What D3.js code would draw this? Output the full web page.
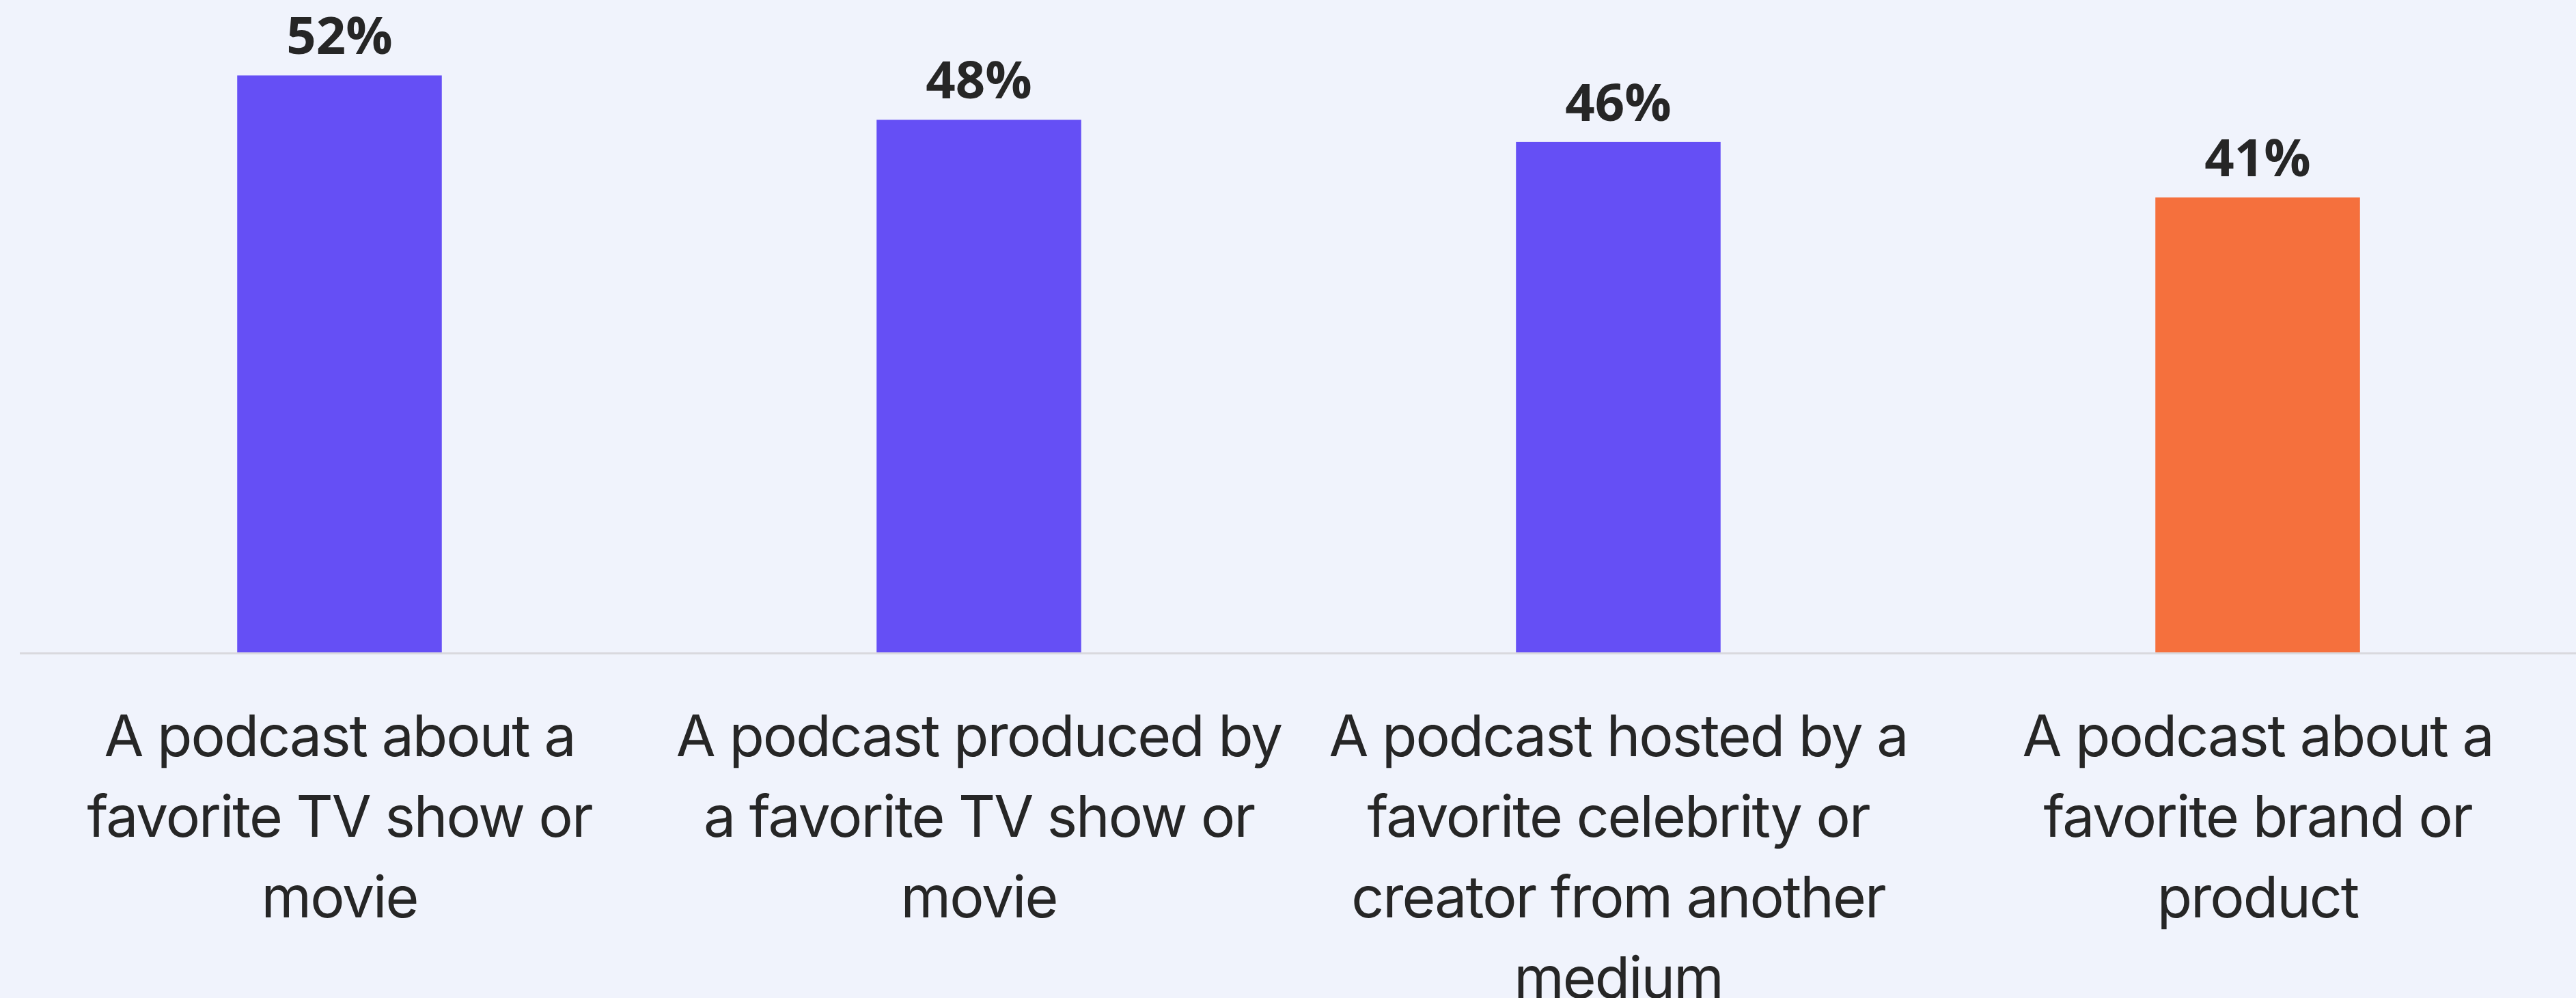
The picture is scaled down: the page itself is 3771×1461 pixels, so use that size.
<!DOCTYPE html>
<html>
<head>
<meta charset="utf-8">
<script src="https://cdn.jsdelivr.net/npm/d3@7"></script>
<style>
  html, body { margin: 0; padding: 0; background: #F0F3FC; }
  svg { display: block; }
</style>
</head>
<body>
<svg id="chart" width="3771" height="1461"></svg>
<script>
// Share of respondents interested in each kind of podcast
const categories = [
  "A podcast about a\nfavorite TV show or\nmovie",
  "A podcast produced by\na favorite TV show or\nmovie",
  "A podcast hosted by a\nfavorite celebrity or\ncreator from another\nmedium",
  "A podcast about a\nfavorite brand or\nproduct"
];
const values = [52, 48, 46, 41];
const valueLabels = ["52%", "48%", "46%", "41%"];
const barColors = ["#654FF5", "#654FF5", "#654FF5", "#F5703D"];

const W = 3771, H = 1461;
const baseY = 955;

const svg = d3.select("#chart");

svg.append("rect").attr("width", W).attr("height", H).attr("fill", "#F0F3FC");

const x = d3.scaleBand()
  .domain(categories)
  .range([29, 3773])
  .paddingInner(0.68)
  .paddingOuter(0.34);

const y = d3.scaleLinear()
  .domain([0, 58.8])
  .range([baseY, 0]);

// bars
svg.append("g")
  .selectAll("rect")
  .data(categories)
  .join("rect")
  .attr("x", d => x(d))
  .attr("y", (d, i) => y(values[i]))
  .attr("width", x.bandwidth())
  .attr("height", (d, i) => y(0) - y(values[i]))
  .attr("fill", (d, i) => barColors[i]);

// baseline
svg.append("line")
  .attr("x1", 29).attr("x2", W)
  .attr("y1", baseY + 1.5).attr("y2", baseY + 1.5)
  .attr("stroke", "#D9D9DE")
  .attr("stroke-width", 3);

// value labels
svg.append("g")
  .selectAll("text")
  .data(categories)
  .join("text")
  .attr("x", d => x(d) + x.bandwidth() / 2)
  .attr("y", (d, i) => y(values[i]) - 31)
  .attr("text-anchor", "middle")
  .attr("font-family", "'Open Sans', sans-serif")
  .attr("font-weight", 700)
  .attr("font-size", 76)
  .attr("fill", "#262626")
  .text((d, i) => valueLabels[i]);

// category labels, one tspan per line
const catG = svg.append("g")
  .selectAll("text")
  .data(categories)
  .join("text")
  .attr("x", d => x(d) + x.bandwidth() / 2)
  .attr("y", 1107)
  .attr("text-anchor", "middle")
  .attr("font-family", "Inter, sans-serif")
  .attr("font-size", 84)
  .attr("letter-spacing", -2)
  .attr("fill", "#262626");

catG.each(function(d) {
  const t = d3.select(this);
  const cx = x(d) + x.bandwidth() / 2;
  d.split("\n").forEach((line, k) => {
    t.append("tspan")
      .attr("x", cx)
      .attr("dy", k === 0 ? 0 : 118)
      .text(line);
  });
});
</script>
</body>
</html>
